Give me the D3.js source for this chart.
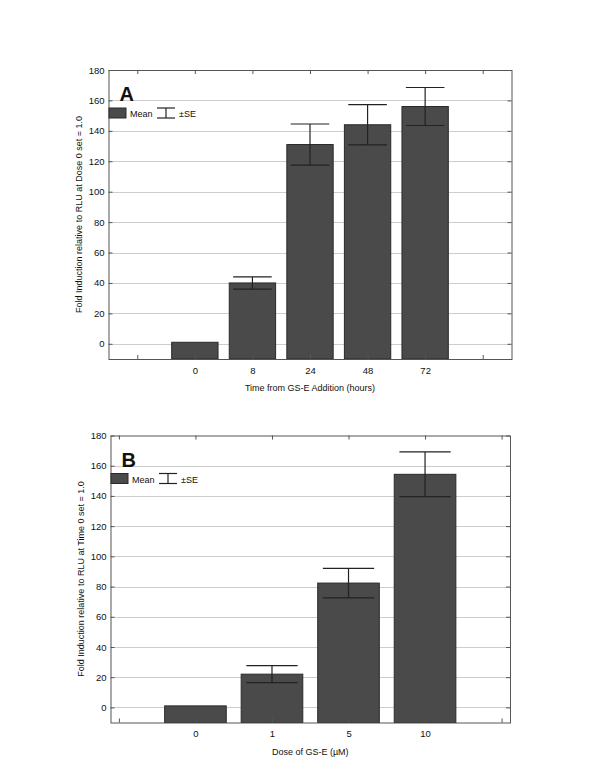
<!DOCTYPE html>
<html>
<head>
<meta charset="utf-8">
<script src="https://cdn.jsdelivr.net/npm/d3@7"></script>
<style>
  body { margin: 0; background: #fff; }
  svg { display: block; font-family: "Liberation Sans", Arial, sans-serif; }
  .grid line { stroke: #cdcdcd; stroke-width: 1; }
  .frame { fill: none; stroke: #555; stroke-width: 1; }
  .bar { fill: #4a4a4a; stroke: #2a2a2a; stroke-width: 1; }
  .err { stroke: #222; stroke-width: 1.2; fill: none; }
  text { fill: #111; }
</style>
</head>
<body>
<svg width="600" height="776"></svg>
<script>
  // panel A: time course
  const timeLabels = ['', '0', '8', '24', '48', '72', ''];
  const timeMeans = [null, 1, 40, 131, 144, 156, null];
  const timeSE = [null, 0, 4, 13.5, 13.2, 12.5, null];

  // panel B: dose response
  const doseLabels = ['', '0', '1', '5', '10', ''];
  const doseMeans = [null, 1, 22, 82.3, 154.3, null];
  const doseSE = [null, 0, 5.6, 9.8, 14.8, null];

  const yTicks = [0, 20, 40, 60, 80, 100, 120, 140, 160, 180];

  const svg = d3.select('svg');

  const drawPanel = (props) => {
    const {
      letter, labels, means, se, left, right, top, bottom,
      xDomain, xTitle, yTitle
    } = props;

    const g = svg.append('g');

    const x = d3.scaleLinear().domain(xDomain).range([left, right]);
    const y = d3.scaleLinear().domain([-10, 180]).range([bottom, top]);
    const step = x(1) - x(0);
    const barW = step * 0.805;
    const capW = step * 0.67;

    // gridlines
    g.append('g').attr('class', 'grid')
      .selectAll('line')
      .data(yTicks.filter(d => d < 180))
      .enter().append('line')
      .attr('x1', left).attr('x2', right)
      .attr('y1', d => Math.round(y(d)) + 0.5)
      .attr('y2', d => Math.round(y(d)) + 0.5);

    // bars
    const idx = d3.range(labels.length).filter(i => means[i] != null);
    g.selectAll('rect.bar')
      .data(idx)
      .enter().append('rect')
      .attr('class', 'bar')
      .attr('x', i => x(i) - barW / 2)
      .attr('width', barW)
      .attr('y', i => y(means[i]))
      .attr('height', i => y(-10) - y(means[i]));

    // error bars
    const errIdx = idx.filter(i => se[i] > 0);
    const eg = g.selectAll('g.errbar').data(errIdx).enter().append('g').attr('class', 'errbar');
    eg.append('line').attr('class', 'err')
      .attr('x1', i => x(i)).attr('x2', i => x(i))
      .attr('y1', i => y(means[i] + se[i])).attr('y2', i => y(means[i] - se[i]));
    eg.append('line').attr('class', 'err')
      .attr('x1', i => x(i) - capW / 2).attr('x2', i => x(i) + capW / 2)
      .attr('y1', i => y(means[i] + se[i])).attr('y2', i => y(means[i] + se[i]));
    eg.append('line').attr('class', 'err')
      .attr('x1', i => x(i) - capW / 2).attr('x2', i => x(i) + capW / 2)
      .attr('y1', i => y(means[i] - se[i])).attr('y2', i => y(means[i] - se[i]));

    // frame
    g.append('rect').attr('class', 'frame')
      .attr('x', left + 0.5).attr('y', top + 0.5)
      .attr('width', right - left).attr('height', bottom - top);

    // inward ticks on all four sides
    const leftAxis = d3.axisLeft(y).tickValues(yTicks).tickSizeInner(-4).tickSizeOuter(0).tickPadding(4);
    const rightAxis = d3.axisRight(y).tickValues(yTicks).tickSizeInner(-4).tickSizeOuter(0).tickFormat('');
    const xPos = d3.range(labels.length);
    const bottomAxis = d3.axisBottom(x).tickValues(xPos).tickSizeInner(-4).tickSizeOuter(0)
      .tickPadding(8).tickFormat(i => labels[i]);
    const topAxis = d3.axisTop(x).tickValues(xPos).tickSizeInner(-4).tickSizeOuter(0).tickFormat('');

    const styleAxis = sel => {
      sel.select('.domain').remove();
      sel.selectAll('line').attr('stroke', '#555');
      sel.selectAll('text').attr('font-size', 9.5).attr('fill', '#111')
        .attr('font-family', '"Liberation Sans", Arial, sans-serif');
    };

    g.append('g').attr('transform', `translate(${left},0)`).call(leftAxis).call(styleAxis);
    g.append('g').attr('transform', `translate(${right},0)`).call(rightAxis).call(styleAxis);
    g.append('g').attr('transform', `translate(0,${bottom})`).call(bottomAxis).call(styleAxis);
    g.append('g').attr('transform', `translate(0,${top})`).call(topAxis).call(styleAxis);

    // axis titles
    g.append('text')
      .attr('x', (left + right) / 2).attr('y', bottom + 32)
      .attr('text-anchor', 'middle').attr('font-size', 9)
      .text(xTitle);
    g.append('text')
      .attr('transform', `translate(${left - 27},${(top + bottom) / 2}) rotate(-90)`)
      .attr('text-anchor', 'middle').attr('font-size', 9)
      .text(yTitle);

    // panel letter
    g.append('text')
      .attr('x', left + 11).attr('y', top + 31)
      .attr('font-size', 20).attr('font-weight', 'bold')
      .text(letter);

    // legend
    const lg = g.append('g').attr('transform', `translate(${left + 0.5},${top + 38})`);
    lg.append('rect').attr('class', 'bar')
      .attr('x', 0).attr('y', 0).attr('width', 17).attr('height', 10);
    lg.append('text').attr('x', 21).attr('y', 9).attr('font-size', 9).text('Mean');
    lg.append('line').attr('class', 'err').attr('x1', 48).attr('x2', 66).attr('y1', 0).attr('y2', 0);
    lg.append('line').attr('class', 'err').attr('x1', 48).attr('x2', 66).attr('y1', 10).attr('y2', 10);
    lg.append('line').attr('class', 'err').attr('x1', 57).attr('x2', 57).attr('y1', 0).attr('y2', 10);
    lg.append('text').attr('x', 70).attr('y', 9).attr('font-size', 9).text('\u00B1SE');
  };

  drawPanel({
    letter: 'A',
    labels: timeLabels, means: timeMeans, se: timeSE,
    left: 108.5, right: 511.5, top: 70, bottom: 359,
    xDomain: [-0.5, 6.5],
    xTitle: 'Time from GS-E Addition (hours)',
    yTitle: 'Fold Induction relative to RLU at Dose 0 set = 1.0'
  });

  drawPanel({
    letter: 'B',
    labels: doseLabels, means: doseMeans, se: doseSE,
    left: 110.5, right: 510, top: 435.5, bottom: 722.5,
    xDomain: [-0.11, 5.11],
    xTitle: 'Dose of GS-E (\u00B5M)',
    yTitle: 'Fold Induction relative to RLU at Time 0 set = 1.0'
  });
</script>
</body>
</html>
